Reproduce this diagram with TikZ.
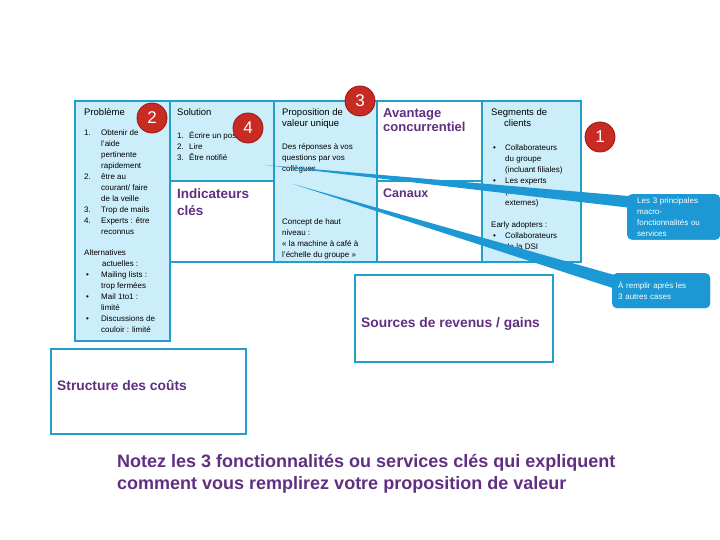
\documentclass[tikz,border=0pt]{standalone}
\usepackage{fontspec}
\setmainfont{Liberation Sans}
\usepackage{xcolor}
\usepackage{tikz}

\definecolor{frameblue}{RGB}{35,158,200}
\definecolor{paleblue}{RGB}{204,238,250}
\definecolor{calloutblue}{RGB}{28,152,212}
\definecolor{titlepurple}{RGB}{96,47,130}
\definecolor{badgered}{RGB}{200,42,36}
\definecolor{badgedark}{RGB}{150,25,20}

\newcommand{\cellstack}[1]{\begin{tabular}[t]{@{}l@{}}#1\end{tabular}}

\begin{document}
\begin{tikzpicture}[x=1pt, y=-1pt,
    box/.style={draw=frameblue, line width=2.5pt},
    palebox/.style={box, fill=paleblue},
    head/.style={anchor=base west, inner sep=0pt, font=\fontsize{9.5}{11}\selectfont},
    body/.style={anchor=base west, inner sep=0pt, font=\fontsize{8}{10.9}\selectfont},
    bighead/.style={anchor=base west, inner sep=0pt, text=titlepurple,
      font=\bfseries\fontsize{13}{13.5}\selectfont},
    badge/.style={circle, fill=badgered, draw=badgedark, line width=0.8pt,
      minimum size=30pt, inner sep=0pt, text=white, font=\fontsize{17}{17}\selectfont},
    callbox/.style={anchor=north west, rounded corners=5pt, fill=calloutblue,
      text=white, align=left, font=\fontsize{8}{11}\selectfont},
    pointer/.style={fill=calloutblue}]
        \useasboundingbox (0,0) rectangle (720,540);
        % Canvas boxes
        \draw[palebox] (75,101) rectangle (170,341);
        \draw[palebox] (170,101) rectangle (274,181);
        \draw[box, fill=white] (170,181) rectangle (274,262);
        \draw[palebox] (274,101) rectangle (377,262);
        \draw[box, fill=white] (377,101) rectangle (482,181);
        \draw[box, fill=white] (377,181) rectangle (482,262);
        \draw[palebox] (482,101) rectangle (581,262);
        \draw[box, fill=white] (355,275) rectangle (553,362);
        \draw[box, fill=white] (51,349) rectangle (246,434);
        % Problem
        \node[head] (probhead) at (84,116) {Problème};
        \node[body] (problist) at (84,136) {\begin{tabular}[t]{@{}p{17pt}@{}l@{}}
          1. & Obtenir de\\ & l'aide\\ & pertinente\\ & rapidement\\
          2. & être au\\ & courant/ faire\\ & de la veille\\
          3. & Trop de mails\\
          4. & Experts : être\\ & reconnus\\[10.9pt]
          \multicolumn{2}{@{}l@{}}{Alternatives}\\
          \multicolumn{2}{@{}l@{}}{\hspace{18pt}actuelles :}\\
          \hspace{2pt}\textbullet & Mailing lists :\\ & trop fermées\\
          \hspace{2pt}\textbullet & Mail 1to1 :\\ & limité\\
          \hspace{2pt}\textbullet & Discussions de\\ & couloir : limité
        \end{tabular}};
        % Solution
        \node[head] (solhead) at (177,116) {Solution};
        \node[body] (sollist) at (177,139) {\begin{tabular}[t]{@{}p{12pt}@{}l@{}}
          1. & Écrire un post\\ 2. & Lire\\ 3. & Être notifié
        \end{tabular}};
        \node[bighead, font=\bfseries\fontsize{13.5}{17}\selectfont] (indhead)
          at (177,199) {\cellstack{Indicateurs\\clés}};
        % Value proposition
        \node[head] (prophead) at (282,116) {\cellstack{Proposition de\\valeur unique}};
        \node[body] (propbody) at (282,150) {\cellstack{Des réponses à vos\\questions par vos\\collègues}};
        \node[body] (propconcept) at (282,225)
          {\cellstack{Concept de haut\\niveau :\\« la machine à café à\\l'échelle du groupe »}};
        % Advantage, channels
        \node[bighead] (advhead) at (383,118) {\cellstack{Avantage\\concurrentiel}};
        \node[bighead, font=\bfseries\fontsize{12.5}{13.5}\selectfont] (chanhead)
          at (383,197) {Canaux};
        % Customer segments
        \node[head] (seghead) at (491,116) {\cellstack{Segments de\\\hspace{13pt}clients}};
        \node[body] (seglist) at (493,151) {\begin{tabular}[t]{@{}p{12pt}@{}l@{}}
          \textbullet & Collaborateurs\\ & du groupe\\ & (incluant filiales)\\
          \textbullet & Les experts\\ & (internes et\\ & externes)\\[10.9pt]
          \multicolumn{2}{@{}l@{}}{\hspace{-2pt}Early adopters :}\\
          \textbullet & Collaborateurs\\ & de la DSI
        \end{tabular}};
        % Revenue, costs
        \node[bighead, font=\bfseries\fontsize{13.8}{16}\selectfont] (revhead)
          at (361,327) {Sources de revenus / gains};
        \node[bighead, font=\bfseries\fontsize{13.8}{16}\selectfont] (costhead)
          at (57,390) {Structure des coûts};
        % Numbered badges
        \node[badge] (badgeone) at (600,137) {1};
        \node[badge] (badgetwo) at (152,118) {2};
        \node[badge] (badgethree) at (360,101) {3};
        \node[badge] (badgefour) at (248,128) {4};
        % Note
        \node[bighead, font=\bfseries\fontsize{18}{22}\selectfont] (note) at (117,467)
          {\cellstack{Notez les 3 fonctionnalités ou services clés qui expliquent\\
           comment vous remplirez votre proposition de valeur}};
        % Callouts
        \coordinate (tipa) at (265,165);
        \coordinate (tipb) at (293,184);
        \node[callbox, text width=73pt, minimum height=44pt, inner xsep=10pt] (calla)
          at (627,194) {Les 3 principales\\macro-\\fonctionnalités ou\\services};
        \node[callbox, text width=86pt, minimum height=35pt, inner xsep=6pt] (callb)
          at (612,273) {À remplir après les\\3 autres cases};
        \fill[pointer] (tipa) -- ([shift={(13,3)}]calla.north west)
          -- ([shift={(13,15)}]calla.north west) -- cycle;
        \fill[pointer] (tipb) -- ([shift={(13,5)}]callb.north west)
          -- ([shift={(13,19)}]callb.north west) -- cycle;
        \node[callbox, text width=73pt, minimum height=44pt, inner xsep=10pt] (callaface)
          at (627,194) {Les 3 principales\\macro-\\fonctionnalités ou\\services};
        \node[callbox, text width=86pt, minimum height=35pt, inner xsep=6pt] (callbface)
          at (612,273) {À remplir après les\\3 autres cases};
\end{tikzpicture}
\end{document}
